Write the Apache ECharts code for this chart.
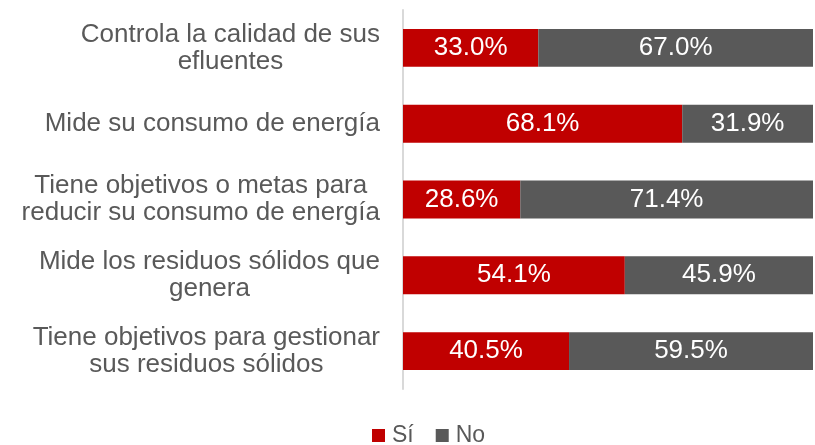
<!DOCTYPE html>
<html>
<head>
<meta charset="utf-8">
<script src="https://cdn.jsdelivr.net/npm/echarts@6/dist/echarts.min.js"></script>
<style>
  html, body { margin: 0; padding: 0; background: #ffffff; }
  #chart { width: 815px; height: 445px; }
</style>
</head>
<body>
<div id="chart"></div>
<script>
// Survey practices (one line break per label line)
const categories = [
  'Controla la calidad de sus\nefluentes',
  'Mide su consumo de energía',
  'Tiene objetivos o metas para\nreducir su consumo de energía',
  'Mide los residuos sólidos que\ngenera',
  'Tiene objetivos para gestionar\nsus residuos sólidos'
];
const seriesNames = ['Sí', 'No'];
const siValues = [33.0, 68.1, 28.6, 54.1, 40.5];
const noValues = [67.0, 31.9, 71.4, 45.9, 59.5];

const FONT = '"Liberation Sans", Arial, sans-serif';
const RED = '#C00000';
const GREY = '#595959';

const chart = echarts.init(document.getElementById('chart'), null, { renderer: 'canvas' });

const barLabel = {
  show: true,
  position: 'inside',
  color: '#ffffff',
  fontFamily: FONT,
  fontSize: 26,
  formatter: p => p.value.toFixed(1) + '%'
};

chart.setOption({
  animation: false,
  backgroundColor: '#ffffff',
  textStyle: { fontFamily: FONT },
  grid: { left: 403, right: 2, top: 10, bottom: 56, containLabel: false },
  xAxis: {
    type: 'value',
    min: 0,
    max: 100,
    show: false
  },
  yAxis: {
    type: 'category',
    inverse: true,
    data: categories,
    axisLine: { show: true, lineStyle: { color: '#D9D9D9', width: 2 } },
    axisTick: { show: false },
    splitLine: { show: false },
    axisLabel: {
      margin: 23,
      color: GREY,
      fontFamily: FONT,
      fontSize: 26,
      lineHeight: 27,
      formatter: v => v.split('\n').map(s => '{c|' + s + '}').join('\n'),
      rich: {
        c: { align: 'center', color: GREY, fontFamily: FONT, fontSize: 26, lineHeight: 27 }
      }
    }
  },
  legend: {
    top: 424,
    left: 372,
    padding: 0,
    icon: 'rect',
    itemWidth: 13,
    itemHeight: 13,
    itemGap: 22,
    textStyle: { color: GREY, fontFamily: FONT, fontSize: 23, lineHeight: 22, padding: [0, 0, 0, 2] },
    data: seriesNames
  },
  series: [
    {
      name: seriesNames[0],
      type: 'bar',
      stack: 'total',
      barWidth: '50%',
      itemStyle: { color: RED },
      label: barLabel,
      data: siValues
    },
    {
      name: seriesNames[1],
      type: 'bar',
      stack: 'total',
      barWidth: '50%',
      itemStyle: { color: GREY },
      label: barLabel,
      data: noValues
    }
  ]
});
</script>
</body>
</html>
